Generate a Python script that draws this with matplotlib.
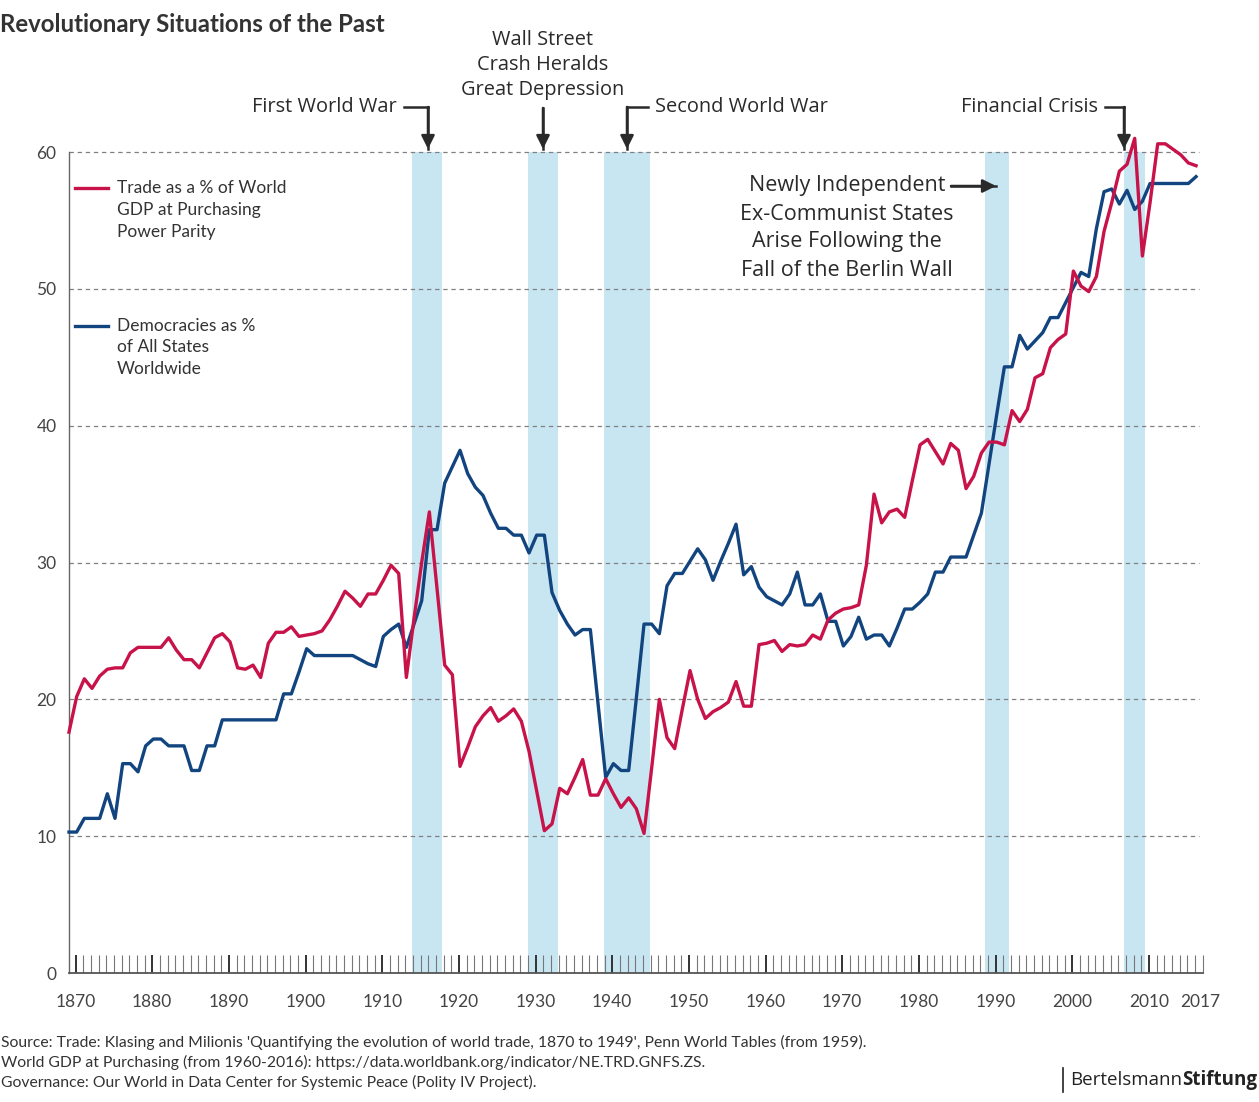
import matplotlib.pyplot as plt
from matplotlib.lines import Line2D

W, H = 1259, 1102

years = list(range(1870, 2018))

# Trade as % of world GDP (PPP), one value per year 1870-2017
trade = [
    17.6, 20.2, 21.5, 20.8, 21.7, 22.2, 22.3, 22.3, 23.4, 23.8,   # 1870s
    23.8, 23.8, 23.8, 24.5, 23.6, 22.9, 22.9, 22.3, 23.4, 24.5,   # 1880s
    24.8, 24.2, 22.3, 22.2, 22.5, 21.6, 24.1, 24.9, 24.9, 25.3,   # 1890s
    24.6, 24.7, 24.8, 25.0, 25.8, 26.8, 27.9, 27.4, 26.8, 27.7,   # 1900s
    27.7, 28.7, 29.8, 29.2, 21.6, 25.9, 30.0, 33.7, 28.1, 22.5,   # 1910s
    21.8, 15.1, 16.5, 18.0, 18.8, 19.4, 18.4, 18.8, 19.3, 18.4,   # 1920s
    16.2, 13.3, 10.4, 10.9, 13.5, 13.1, 14.3, 15.6, 13.0, 13.0,   # 1930s
    14.2, 13.1, 12.1, 12.8, 12.0, 10.2, 15.0, 20.0, 17.2, 16.4,   # 1940s
    19.3, 22.1, 20.0, 18.6, 19.1, 19.4, 19.8, 21.3, 19.5, 19.5,   # 1950s
    24.0, 24.1, 24.3, 23.5, 24.0, 23.9, 24.0, 24.7, 24.4, 25.8,   # 1960s
    26.3, 26.6, 26.7, 26.9, 29.8, 35.0, 32.9, 33.7, 33.9, 33.3,   # 1970s
    36.0, 38.6, 39.0, 38.1, 37.2, 38.7, 38.2, 35.4, 36.3, 38.0,   # 1980s
    38.8, 38.8, 38.6, 41.1, 40.3, 41.2, 43.5, 43.8, 45.7, 46.3,   # 1990s
    46.7, 51.3, 50.2, 49.8, 50.9, 54.2, 56.3, 58.6, 59.1, 61.0,   # 2000s
    52.4, 56.3, 60.6, 60.6, 60.2, 59.8, 59.2, 59.0,               # 2010-2017
]

# Democracies as % of all states, 1870-2017
democracy = [
    10.3, 10.3, 11.3, 11.3, 11.3, 13.1, 11.3, 15.3, 15.3, 14.7,   # 1870s
    16.6, 17.1, 17.1, 16.6, 16.6, 16.6, 14.8, 14.8, 16.6, 16.6,   # 1880s
    18.5, 18.5, 18.5, 18.5, 18.5, 18.5, 18.5, 18.5, 20.4, 20.4,   # 1890s
    22.0, 23.7, 23.2, 23.2, 23.2, 23.2, 23.2, 23.2, 22.9, 22.6,   # 1900s
    22.4, 24.6, 25.1, 25.5, 23.8, 25.5, 27.2, 32.4, 32.4, 35.8,   # 1910s
    37.0, 38.2, 36.5, 35.5, 34.9, 33.6, 32.5, 32.5, 32.0, 32.0,   # 1920s
    30.7, 32.0, 32.0, 27.8, 26.5, 25.5, 24.7, 25.1, 25.1, 19.7,   # 1930s
    14.3, 15.3, 14.8, 14.8, 20.1, 25.5, 25.5, 24.8, 28.3, 29.2,   # 1940s
    29.2, 30.1, 31.0, 30.2, 28.7, 30.1, 31.4, 32.8, 29.1, 29.7,   # 1950s
    28.2, 27.5, 27.2, 26.9, 27.7, 29.3, 26.9, 26.9, 27.7, 25.7,   # 1960s
    25.7, 23.9, 24.6, 26.0, 24.4, 24.7, 24.7, 23.9, 25.2, 26.6,   # 1970s
    26.6, 27.1, 27.7, 29.3, 29.3, 30.4, 30.4, 30.4, 32.0, 33.6,   # 1980s
    37.2, 40.8, 44.3, 44.3, 46.6, 45.6, 46.2, 46.8, 47.9, 47.9,   # 1990s
    49.0, 50.1, 51.2, 50.9, 54.4, 57.1, 57.3, 56.2, 57.2, 55.8,   # 2000s
    56.4, 57.7, 57.7, 57.7, 57.7, 57.7, 57.7, 58.2,               # 2010-2017
]

# shaded crisis periods (start, end in years)
band_start = [1914.7, 1929.9, 1939.8, 1989.5, 2007.6]
band_end = [1918.7, 1933.8, 1945.8, 1992.6, 2010.4]

yticks = [0, 10, 20, 30, 40, 50, 60]
decades = list(range(1870, 2011, 10))

RED = '#c8124a'
BLUE = '#12457f'
BAND = '#c8e6f2'
DARK = '#2a2a2a'

plt.rcParams['font.family'] = ['Lato', 'DejaVu Sans']

fig = plt.figure(figsize=(W / 100, H / 100), dpi=100)

# pixel -> figure fraction helpers
def fx(x):
    return x / W

def fy(y):
    return 1 - y / H

px_per_year = 7.667
ax_left, ax_right, ax_bottom = 69, 1203, 973
ytop = 63
ax_h = ytop * 13.683
ax = fig.add_axes([fx(ax_left), fy(ax_bottom), (ax_right - ax_left) / W, ax_h / H])
ax.set_xlim(1870, 1870 + (ax_right - ax_left) / px_per_year)
ax.set_ylim(0, ytop)

for s, e in zip(band_start, band_end):
    ax.axvspan(s, e, ymin=0, ymax=60 / ytop, color=BAND, lw=0, zorder=0)

for v in yticks[1:]:
    ax.axhline(v, xmax=(1199 - ax_left) / (ax_right - ax_left), color='#808080',
               lw=0.9, ls=(0, (3.5, 3)), zorder=1)

ax.plot(years, democracy, color=BLUE, lw=2.4, zorder=4, clip_on=False)
ax.plot(years, trade, color=RED, lw=2.4, zorder=5, clip_on=False)

# axes styling
for side in ['top', 'right']:
    ax.spines[side].set_visible(False)
ax.spines['left'].set_bounds(0, 60)
ax.spines['left'].set_color('#666666')
ax.spines['left'].set_linewidth(1.0)
ax.spines['bottom'].set_color('#555555')
ax.spines['bottom'].set_linewidth(1.3)
ax.spines['bottom'].set_zorder(6)

ax.set_yticks(yticks)
ax.set_yticklabels([str(v) for v in yticks])
ax.tick_params(axis='y', length=0, pad=9, labelsize=12.5, labelcolor='#444444')

tick_off = 0.85
ax.set_xticks([d + tick_off for d in decades])
ax.set_xticklabels([str(d) for d in decades])
ax.set_xticks([y + tick_off for y in years], minor=True)
ax.tick_params(axis='x', which='major', direction='in', length=13, width=1.4,
               color='#333333', pad=15, labelsize=12.5, labelcolor='#444444')
ax.tick_params(axis='x', which='minor', direction='in', length=13, width=0.8,
               color='#777777')
ax.text(2017.55, -1.52, '2017', ha='center', va='top', fontsize=12.5, color='#444444')

# title
fig.text(fx(0), fy(24), 'Revolutionary Situations of the Past', fontsize=17.3,
         fontweight='bold', color='#333333', ha='left', va='center')

# annotations
ann = dict(family=['Open Sans', 'DejaVu Sans'], fontsize=14.4, color=DARK, va='center')


def arrow(points):
    xs = [fx(p[0]) for p in points]
    ys = [fy(p[1]) for p in points]
    if len(points) > 2:
        fig.add_artist(Line2D(xs[:-1], ys[:-1], color=DARK, lw=1.8,
                              solid_joinstyle='miter'))
    fig.add_artist(Line2D(xs[-2:], ys[-2:], color=DARK, lw=1.8))
    ax.annotate('', xy=(xs[-1], ys[-1]), xytext=(xs[-2], ys[-2]),
                xycoords='figure fraction', textcoords='figure fraction',
                arrowprops=dict(arrowstyle='-|>', color=DARK, lw=1.8,
                                mutation_scale=20, shrinkA=0, shrinkB=0))


fig.text(fx(397), fy(107), 'First World War', ha='right', **ann)
arrow([(404, 107), (428, 107), (428, 149)])

for i, line in enumerate(['Wall Street', 'Crash Heralds', 'Great Depression']):
    fig.text(fx(543), fy(40 + 25 * i), line, ha='center', **ann)
arrow([(543, 108), (543, 149)])

fig.text(fx(655), fy(107), 'Second World War', ha='left', **ann)
arrow([(648, 107), (627, 107), (627, 149)])

fig.text(fx(1098), fy(107), 'Financial Crisis', ha='right', **ann)
arrow([(1105, 107), (1124, 107), (1124, 149)])

berlin = ['Newly Independent', 'Ex-Communist States', 'Arise Following the',
          'Fall of the Berlin Wall']
for i, line in enumerate(berlin):
    fig.text(fx(847), fy(186 + 28 * i), line, ha='center',
             **dict(ann, fontsize=15.5))
arrow([(951, 186), (996, 186)])

# legend
leg = dict(fontsize=12.5, color='#333333', ha='left', va='center')
fig.add_artist(Line2D([fx(75), fx(108)], [fy(188), fy(188)], color=RED, lw=2.4))
for i, line in enumerate(['Trade as a % of World', 'GDP at Purchasing', 'Power Parity']):
    fig.text(fx(117), fy(188 + 22 * i), line, **leg)
fig.add_artist(Line2D([fx(75), fx(108)], [fy(326), fy(326)], color=BLUE, lw=2.4))
for i, line in enumerate(['Democracies as %', 'of All States', 'Worldwide']):
    fig.text(fx(117), fy(326 + 21.5 * i), line, **leg)

# source
sources = [
    "Source: Trade: Klasing and Milionis 'Quantifying the evolution of world trade, "
    "1870 to 1949', Penn World Tables (from 1959).",
    "World GDP at Purchasing (from 1960-2016): "
    "https://data.worldbank.org/indicator/NE.TRD.GNFS.ZS.",
    "Governance: Our World in Data Center for Systemic Peace (Polity IV Project).",
]
for i, line in enumerate(sources):
    fig.text(fx(1), fy(1042 + 20 * i), line, fontsize=11.3, color='#333333',
             ha='left', va='center')

# logo
logo = dict(family=['Open Sans', 'DejaVu Sans'], fontsize=13.5, color='#222222',
            va='center')
t2 = fig.text(fx(1257), fy(1080), 'Stiftung', ha='right', fontweight='bold', **logo)
fig.canvas.draw()
bb = t2.get_window_extent()
fig.text(bb.x0 / W, fy(1080), 'Bertelsmann', ha='right', **logo)
fig.add_artist(Line2D([fx(1063), fx(1063)], [fy(1068), fy(1092)], color='#222222', lw=1.2))

fig.savefig('out.png', dpi=100)
